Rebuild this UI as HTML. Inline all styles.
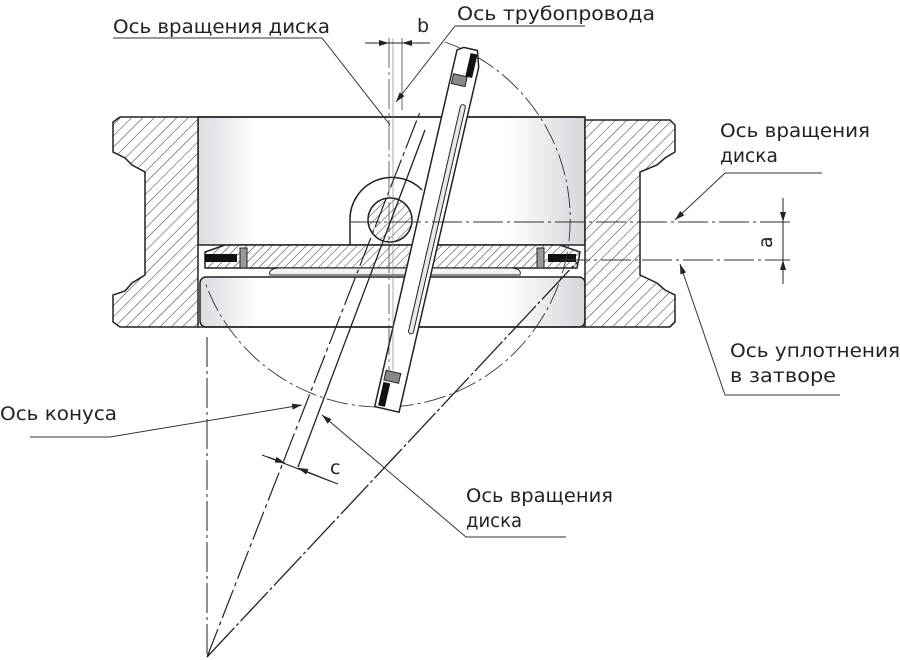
<!DOCTYPE html>
<html><head><meta charset="utf-8"><style>
html,body{margin:0;padding:0;background:#fff}
svg{display:block}
text{font-family:"DejaVu Sans","Liberation Sans",sans-serif;font-size:19px;fill:#222}
</style></head><body>
<svg width="900" height="660" viewBox="0 0 900 660" xmlns="http://www.w3.org/2000/svg">
<defs>
<pattern id="h" width="8" height="8" patternUnits="userSpaceOnUse" patternTransform="rotate(45)">
<rect width="8" height="8" fill="#fff"/><line x1="0" y1="0" x2="0" y2="8" stroke="#333" stroke-width="1"/>
</pattern>
<pattern id="h2" width="6" height="6" patternUnits="userSpaceOnUse" patternTransform="rotate(45)">
<rect width="6" height="6" fill="#fff"/><line x1="0" y1="0" x2="0" y2="6" stroke="#333" stroke-width="1"/>
</pattern>
<linearGradient id="g" x1="0" x2="1" y1="0" y2="0">
<stop offset="0" stop-color="#d9dce1"/><stop offset="0.15" stop-color="#fff"/><stop offset="0.8" stop-color="#fff"/><stop offset="1" stop-color="#d3d6db"/>
</linearGradient>
<marker id="a" viewBox="0 0 10 6" refX="10" refY="3" markerWidth="10" markerHeight="6" orient="auto" markerUnits="userSpaceOnUse"><path d="M0,0 L10,3 L0,6z" fill="#222"/></marker>
</defs>

<!-- bores -->
<rect x="198" y="117" width="387" height="128" fill="url(#g)" stroke="#222" stroke-width="1.5"/>
<rect x="200" y="277" width="385" height="50" rx="6" fill="url(#g)" stroke="#222" stroke-width="1.5"/>
<line x1="198" y1="117" x2="585" y2="117" stroke="#222" stroke-width="1.5"/>
<line x1="198" y1="327" x2="585" y2="327" stroke="#222" stroke-width="1.5"/>

<!-- body -->
<path d="M120,117 L198,117 L198,327 L120,327 L113,322 L113,295 L125,291 L132,283 L145,275 L145,172 L132,165 L125,158 L113,152 L113,122Z" fill="url(#h)" stroke="#222" stroke-width="1.5"/>
<path d="M585,120 L670,120 L675,125 L675,152 L665,158 L657,165 L640,172 L640,275 L657,283 L665,290 L675,295 L675,322 L670,327 L585,327Z" fill="url(#h)" stroke="#222" stroke-width="1.5"/>

<!-- seat -->
<path d="M205,252 L225,245 L560,245 L580,252 L577,268 L205,268Z" fill="url(#h2)" stroke="#222" stroke-width="1.5"/>
<path d="M270,275 Q268,269 278,268 L512,268 Q522,269 520,275Z" fill="#f2f3f5" stroke="#222" stroke-width="1"/>
<rect x="205" y="254" width="32" height="8" fill="#111"/>
<rect x="548" y="254" width="28" height="8" fill="#111"/>
<rect x="240" y="248" width="7" height="20" fill="#999" stroke="#222"/>
<rect x="537" y="248" width="7" height="20" fill="#999" stroke="#222"/>

<!-- hinge -->
<path d="M350,245 L350,220 A42,42 0 0 1 422,190" fill="none" stroke="#222" stroke-width="1.5"/>
<circle cx="390" cy="220" r="22" fill="url(#h2)" stroke="#222" stroke-width="1.5"/>

<!-- big dash-dot arc -->
<path d="M445,42 A188,188 0 1 1 205,282" fill="none" stroke="#333" stroke-width="0.9" stroke-dasharray="22,4,3,4"/>

<!-- disc -->
<g transform="rotate(13 428 229)">
<path d="M416,48 L422,44 L436,44 L441,60 L441,414 L416,414Z" fill="#fff" stroke="#222" stroke-width="1.5"/>
<rect x="432" y="100" width="5" height="235" rx="2.5" fill="#e6e8eb" stroke="#222" stroke-width="1"/>
<rect x="430" y="48" width="7" height="24" fill="#111"/>
<rect x="418" y="72" width="14" height="10" fill="#888" stroke="#222"/>
<rect x="419" y="388" width="7" height="24" fill="#111"/>
<rect x="419" y="376" width="15" height="10" fill="#888" stroke="#222"/>
</g>

<!-- pipeline axis -->
<line x1="389" y1="38" x2="389" y2="370" stroke="#444" stroke-width="0.8" stroke-dasharray="30,4,3,4"/>
<line x1="393" y1="38" x2="393" y2="370" stroke="#777" stroke-width="0.6"/>
<line x1="402" y1="38" x2="402" y2="110" stroke="#444" stroke-width="0.8"/>

<!-- axis lines right -->
<line x1="350" y1="222" x2="790" y2="222" stroke="#333" stroke-width="0.9" stroke-dasharray="30,4,3,4"/>
<line x1="560" y1="260" x2="790" y2="260" stroke="#333" stroke-width="0.9" stroke-dasharray="30,4,3,4"/>
<line x1="783" y1="198" x2="783" y2="284" stroke="#222" stroke-width="1"/>
<line x1="783" y1="200" x2="783" y2="222" stroke="#222" marker-end="url(#a)"/>
<line x1="783" y1="282" x2="783" y2="260" stroke="#222" marker-end="url(#a)"/>
<text x="0" y="0" transform="translate(772,248) rotate(-90)">a</text>

<!-- cone -->
<line x1="207" y1="337" x2="207" y2="657" stroke="#222" stroke-width="1" stroke-dasharray="30,4,3,4"/>
<line x1="207" y1="657" x2="577" y2="262" stroke="#222" stroke-width="1.3" stroke-dasharray="40,3,3,3"/>
<line x1="207" y1="657" x2="420" y2="112" stroke="#222" stroke-width="1.2" stroke-dasharray="30,4,4,4"/>
<line x1="298" y1="467" x2="425" y2="130" stroke="#222" stroke-width="1.3"/>

<!-- dim c -->
<line x1="262" y1="455" x2="338" y2="484" stroke="#222" stroke-width="1"/>
<line x1="268" y1="457" x2="285" y2="463" stroke="#222" marker-end="url(#a)"/>
<line x1="330" y1="481" x2="298" y2="468" stroke="#222" marker-end="url(#a)"/>
<text x="330" y="474">c</text>

<!-- dim b -->
<line x1="365" y1="43" x2="430" y2="43" stroke="#222"/>
<line x1="370" y1="43" x2="389" y2="43" stroke="#222" marker-end="url(#a)"/>
<line x1="425" y1="43" x2="402" y2="43" stroke="#222" marker-end="url(#a)"/>
<text x="417" y="32">b</text>

<!-- leaders -->
<g fill="none" stroke="#333" stroke-width="1">
<polyline points="113,38 322,38 390,125"/>
<polyline points="585,26 455,26 396,102" marker-end="url(#a)"/>
<polyline points="822,173 725,173 675,220" marker-end="url(#a)"/>
<polyline points="840,395 725,395 680,264" marker-end="url(#a)"/>
<polyline points="30,437 110,437 302,405" marker-end="url(#a)"/>
<polyline points="566,537 466,537 322,415" marker-end="url(#a)"/>
</g>

<text x="113" y="33" textLength="217" lengthAdjust="spacingAndGlyphs">Ось вращения диска</text>
<text x="457" y="20" textLength="198" lengthAdjust="spacingAndGlyphs">Ось трубопровода</text>
<text x="720" y="137" textLength="150" lengthAdjust="spacingAndGlyphs">Ось вращения</text>
<text x="720" y="162" textLength="58" lengthAdjust="spacingAndGlyphs">диска</text>
<text x="730" y="357" textLength="170" lengthAdjust="spacingAndGlyphs">Ось уплотнения</text>
<text x="730" y="382" textLength="106" lengthAdjust="spacingAndGlyphs">в затворе</text>
<text x="0" y="420" textLength="117" lengthAdjust="spacingAndGlyphs">Ось конуса</text>
<text x="466" y="502" textLength="147" lengthAdjust="spacingAndGlyphs">Ось вращения</text>
<text x="466" y="527" textLength="56" lengthAdjust="spacingAndGlyphs">диска</text>
</svg>
</body></html>
